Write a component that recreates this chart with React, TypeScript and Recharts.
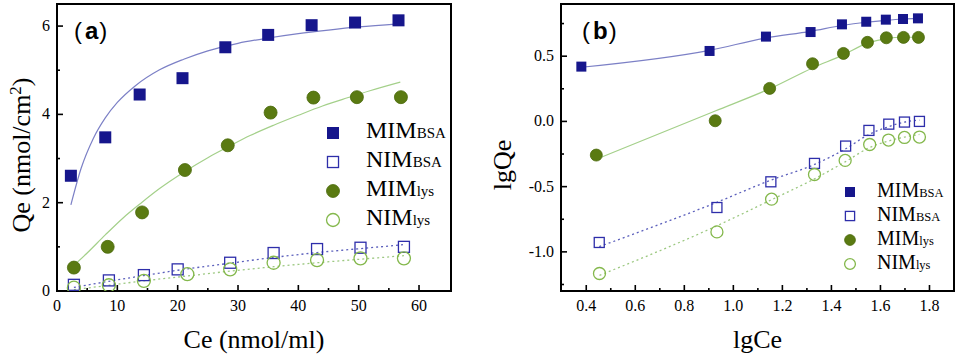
import React from 'react'
import {
  ComposedChart,
  Line,
  ReferenceArea,
  Scatter,
  XAxis,
  YAxis,
} from 'recharts'

// ---- panel (a): Qe vs Ce ----
const A_CE_MIMBSA = [2.3, 8.0, 13.7, 20.8, 27.9, 35.0, 42.2, 49.4, 56.6]
const A_QE_MIMBSA = [2.61, 3.48, 4.45, 4.82, 5.52, 5.8, 6.02, 6.08, 6.13]
const A_CE_NIMBSA = [2.8, 8.6, 14.4, 20.0, 28.7, 35.9, 43.1, 50.3, 57.5]
const A_QE_NIMBSA = [0.14, 0.24, 0.36, 0.49, 0.64, 0.86, 0.95, 0.98, 1.0]
const A_CE_MIMLYS = [2.8, 8.4, 14.1, 21.2, 28.3, 35.4, 42.5, 49.7, 57.0]
const A_QE_MIMLYS = [0.53, 1.0, 1.78, 2.74, 3.3, 4.04, 4.38, 4.39, 4.39]
const A_CE_NIMLYS = [2.8, 8.6, 14.4, 21.6, 28.7, 35.9, 43.1, 50.3, 57.5]
const A_QE_NIMLYS = [0.075, 0.13, 0.23, 0.38, 0.49, 0.64, 0.7, 0.74, 0.74]

// fitted curves
const A_FIT_CE_MIMBSA = [2.3, 4, 6, 8, 10, 13, 17, 21, 25, 30, 35, 40, 45, 50, 56.6]
const A_FIT_QE_MIMBSA = [1.95, 2.78, 3.45, 3.92, 4.27, 4.65, 5.01, 5.25, 5.44, 5.61, 5.73, 5.83, 5.91, 5.98, 6.05]
const A_FIT_CE_MIMLYS = [2.8, 5, 8, 11, 14, 17, 21, 25, 28.3, 32, 36, 40, 44, 48, 52, 56.9]
const A_FIT_QE_MIMLYS = [0.58, 0.86, 1.27, 1.66, 2.0, 2.32, 2.69, 3.02, 3.26, 3.52, 3.76, 3.98, 4.19, 4.37, 4.54, 4.73]
const A_FIT_CE_NIMBSA = [2.8, 8.6, 14.4, 20.0, 28.7, 35.9, 43.1, 50.3, 57.5]
const A_FIT_QE_NIMBSA = [0.08, 0.22, 0.35, 0.47, 0.63, 0.76, 0.87, 0.96, 1.05]
const A_FIT_CE_NIMLYS = [2.8, 8.6, 14.4, 21.6, 28.7, 35.9, 43.1, 50.3, 57.5]
const A_FIT_QE_NIMLYS = [0.03, 0.13, 0.23, 0.34, 0.45, 0.55, 0.64, 0.72, 0.8]

const A_X_TICKS = [0, 5, 10, 15, 20, 25, 30, 35, 40, 45, 50, 55, 60]
const A_X_LABELS = [0, 10, 20, 30, 40, 50, 60]
const A_Y_TICKS = [0, 1, 2, 3, 4, 5, 6]
const A_Y_LABELS = [0, 2, 4, 6]

// ---- panel (b): lgQe vs lgCe ----
const B_LC_MIMBSA = [0.38, 0.903, 1.133, 1.315, 1.443, 1.542, 1.622, 1.692, 1.753]
const B_LQ_MIMBSA = [0.42, 0.54, 0.65, 0.685, 0.744, 0.764, 0.78, 0.785, 0.79]
const B_LC_NIMBSA = [0.453, 0.933, 1.153, 1.331, 1.458, 1.553, 1.634, 1.698, 1.759]
const B_LQ_NIMBSA = [-0.928, -0.66, -0.463, -0.322, -0.189, -0.069, -0.021, -0.005, 0.0]
const B_LC_MIMLYS = [0.441, 0.926, 1.148, 1.323, 1.449, 1.547, 1.624, 1.694, 1.755]
const B_LQ_MIMLYS = [-0.258, 0.005, 0.253, 0.442, 0.521, 0.606, 0.641, 0.644, 0.644]
const B_LC_NIMLYS = [0.454, 0.933, 1.156, 1.331, 1.456, 1.556, 1.633, 1.698, 1.759]
const B_LQ_NIMLYS = [-1.166, -0.847, -0.596, -0.407, -0.299, -0.177, -0.143, -0.123, -0.12]

const B_FIT_LC_MIMBSA = [0.38, 0.903, 1.133, 1.315, 1.443, 1.542, 1.622, 1.692, 1.753]
const B_FIT_LQ_MIMBSA = [0.415, 0.545, 0.64, 0.69, 0.735, 0.76, 0.775, 0.785, 0.79]
const B_FIT_LC_MIMLYS = [0.441, 0.926, 1.148, 1.323, 1.449, 1.547, 1.624, 1.694, 1.755]
const B_FIT_LQ_MIMLYS = [-0.29, 0.08, 0.25, 0.41, 0.51, 0.6, 0.635, 0.645, 0.645]
const B_FIT_LC_NIMBSA = [0.453, 0.933, 1.153, 1.331, 1.458, 1.553, 1.634, 1.698, 1.759]
const B_FIT_LQ_NIMBSA = [-0.96, -0.62, -0.45, -0.33, -0.21, -0.1, -0.04, -0.005, 0.01]
const B_FIT_LC_NIMLYS = [0.454, 0.933, 1.156, 1.331, 1.456, 1.556, 1.633, 1.698, 1.759]
const B_FIT_LQ_NIMLYS = [-1.18, -0.8, -0.6, -0.44, -0.31, -0.2, -0.15, -0.12, -0.1]

const B_X_TICKS = [0.4, 0.5, 0.6, 0.7, 0.8, 0.9, 1.0, 1.1, 1.2, 1.3, 1.4, 1.5, 1.6, 1.7, 1.8]
const B_X_LABELS = [0.4, 0.6, 0.8, 1.0, 1.2, 1.4, 1.6, 1.8]
const B_Y_TICKS = [-1.25, -1.0, -0.75, -0.5, -0.25, 0, 0.25, 0.5, 0.75]
const B_Y_LABELS = [-1.0, -0.5, 0, 0.5]

const SERIES_NAMES = ['MIM', 'NIM', 'MIM', 'NIM']
const SERIES_SUBS = ['BSA', 'BSA', 'lys', 'lys']

const NAVY = '#16168c'
const BLUE_LINE = '#7c80c6'
const BLUE_OPEN = '#2e2eaa'
const OLIVE = '#5a7a12'
const GREEN_LINE = '#a4d08a'
const GREEN_OPEN = '#84b84c'
const SERIF = 'Liberation Serif'

const pts = (xs: number[], ys: number[]) => xs.map((x, i) => ({ x, y: ys[i] }))

const near = (list: number[], v: number) => list.some((l) => Math.abs(l - v) < 1e-6)

function FilledSquare({ cx, cy, size = 11 }: any) {
  return <rect x={cx - size / 2} y={cy - size / 2} width={size} height={size} fill={NAVY} />
}
function OpenSquare({ cx, cy, size = 10 }: any) {
  return (
    <rect x={cx - size / 2} y={cy - size / 2} width={size} height={size} fill="none" stroke={BLUE_OPEN} strokeWidth={1.3} />
  )
}
function FilledCircle({ cx, cy, r = 6 }: any) {
  return <circle cx={cx} cy={cy} r={r} fill={OLIVE} stroke="#4a6a0a" strokeWidth={0.8} />
}
function OpenCircle({ cx, cy, r = 6 }: any) {
  return <circle cx={cx} cy={cy} r={r} fill="none" stroke={GREEN_OPEN} strokeWidth={1.3} />
}

function XTick({ x, y, payload, labels, fmt }: any) {
  const major = near(labels, payload.value)
  return (
    <g>
      <line x1={x} x2={x} y1={y} y2={y - (major ? 6 : 3)} stroke="#000" strokeWidth={1.6} />
      {major && (
        <text x={x} y={y + 20} textAnchor="middle" fontFamily={SERIF} fontSize={16} fill="#000">
          {fmt(payload.value)}
        </text>
      )}
    </g>
  )
}

function YTick({ x, y, payload, labels, fmt }: any) {
  const major = near(labels, payload.value)
  return (
    <g>
      <line x1={x} x2={x + (major ? 6 : 3)} y1={y} y2={y} stroke="#000" strokeWidth={1.6} />
      {major && (
        <text x={x - 7} y={y + 5} textAnchor="end" fontFamily={SERIF} fontSize={16} fill="#000">
          {fmt(payload.value)}
        </text>
      )}
    </g>
  )
}

function Legend({ left, top, gap, markerX, textX, size, subSize }: any) {
  const markers = [
    <FilledSquare cx={10} cy={10} size={size * 0.5} />,
    <OpenSquare cx={10} cy={10} size={size * 0.46} />,
    <FilledCircle cx={10} cy={10} r={size * 0.27} />,
    <OpenCircle cx={10} cy={10} r={size * 0.27} />,
  ]
  return (
    <div style={{ position: 'absolute', left, top, fontFamily: SERIF }}>
      {SERIES_NAMES.map((name, i) => (
        <div key={i} style={{ position: 'absolute', top: i * gap, left: 0, height: 20, width: 160 }}>
          <svg width={20} height={20} style={{ position: 'absolute', left: markerX - 10, top: -10 }}>
            {markers[i]}
          </svg>
          <div
            style={{
              position: 'absolute',
              left: textX,
              top: -size * 0.62,
              fontSize: size,
              lineHeight: 1,
              whiteSpace: 'nowrap',
            }}
          >
            {name}
            <span style={{ fontSize: subSize }}>{SERIES_SUBS[i]}</span>
          </div>
        </div>
      ))}
    </div>
  )
}

function PanelTag({ left, top, letter }: any) {
  return (
    <div
      style={{
        position: 'absolute',
        left,
        top,
        fontFamily: '"Liberation Sans", Arial, sans-serif',
        fontSize: 24,
        lineHeight: 1,
        whiteSpace: 'nowrap',
      }}
    >
      <span style={{ fontWeight: 300 }}>(</span>
      <span style={{ fontWeight: 700, margin: '0 1px 0 3px' }}>{letter}</span>
      <span style={{ fontWeight: 300 }}>)</span>
    </div>
  )
}

// rotated y-axis title drawn as its own small svg overlay
function YTitle({ x, y, children }: any) {
  return (
    <svg width={60} height={356} style={{ position: 'absolute', left: 0, top: 0, overflow: 'visible' }}>
      <text
        x={x}
        y={y}
        transform={`rotate(-90 ${x} ${y})`}
        textAnchor="middle"
        fontFamily={SERIF}
        fontSize={26}
        fill="#000"
      >
        {children}
      </text>
    </svg>
  )
}

const fmtInt = (v: number) => `${v}`
const fmtOne = (v: number) => v.toFixed(1)

export default function App() {
  return (
    <div style={{ position: 'absolute', left: 0, top: 0, width: 958, height: 356, background: '#fff' }}>
      <div style={{ position: 'absolute', left: 0, top: 0 }}>
        <ComposedChart width={480} height={356} margin={{ top: 4, right: 29, bottom: 0, left: 0 }}>
          <XAxis
            type="number"
            dataKey="x"
            domain={[0, 65.3]}
            ticks={A_X_TICKS}
            allowDataOverflow
            axisLine={false}
            tickLine={false}
            tickSize={0}
            tickMargin={0}
            height={65}
            tick={<XTick labels={A_X_LABELS} fmt={fmtInt} />}
            interval={0}
            label={{ value: 'Ce (nmol/ml)', position: 'insideBottom', offset: 8, fontFamily: SERIF, fontSize: 26, fill: '#000' }}
          />
          <YAxis
            type="number"
            dataKey="y"
            domain={[0, 6.5]}
            ticks={A_Y_TICKS}
            allowDataOverflow
            axisLine={false}
            tickLine={false}
            tickSize={0}
            tickMargin={0}
            width={57}
            tick={<YTick labels={A_Y_LABELS} fmt={fmtInt} />}
            interval={0}
          />
          <ReferenceArea x1={0} x2={65.3} y1={0} y2={6.5} fill="none" stroke="#000" strokeWidth={2} ifOverflow="visible" />
          <Line data={pts(A_FIT_CE_MIMBSA, A_FIT_QE_MIMBSA)} dataKey="y" type="monotone" dot={false} stroke={BLUE_LINE} strokeWidth={1.2} isAnimationActive={false} />
          <Line data={pts(A_FIT_CE_MIMLYS, A_FIT_QE_MIMLYS)} dataKey="y" type="monotone" dot={false} stroke={GREEN_LINE} strokeWidth={1.2} isAnimationActive={false} />
          <Line data={pts(A_FIT_CE_NIMBSA, A_FIT_QE_NIMBSA)} dataKey="y" type="monotone" dot={false} stroke="#5c60bc" strokeWidth={1.3} strokeDasharray="2 3" isAnimationActive={false} />
          <Line data={pts(A_FIT_CE_NIMLYS, A_FIT_QE_NIMLYS)} dataKey="y" type="monotone" dot={false} stroke="#9cc880" strokeWidth={1.3} strokeDasharray="2 3" isAnimationActive={false} />
          <Scatter data={pts(A_CE_NIMBSA, A_QE_NIMBSA)} shape={(p: any) => <OpenSquare {...p} size={11} />} isAnimationActive={false} />
          <Scatter data={pts(A_CE_NIMLYS, A_QE_NIMLYS)} shape={(p: any) => <OpenCircle {...p} r={6.5} />} isAnimationActive={false} />
          <Scatter data={pts(A_CE_MIMBSA, A_QE_MIMBSA)} shape={(p: any) => <FilledSquare {...p} size={12} />} isAnimationActive={false} />
          <Scatter data={pts(A_CE_MIMLYS, A_QE_MIMLYS)} shape={(p: any) => <FilledCircle {...p} r={6.5} />} isAnimationActive={false} />
        </ComposedChart>
        <YTitle x={30} y={155}>
          Qe (nmol/cm<tspan dy={-9} fontSize={17}>2</tspan><tspan dy={9}>)</tspan>
        </YTitle>
        <Legend left={323} top={133} gap={29} markerX={10} textX={43} size={24} subSize={15} />
        <PanelTag left={74} top={19} letter="a" />
      </div>

      <div style={{ position: 'absolute', left: 480, top: 0 }}>
        <ComposedChart width={478} height={356} margin={{ top: 4, right: 4, bottom: 0, left: 0 }}>
          <XAxis
            type="number"
            dataKey="x"
            domain={[0.297, 1.9]}
            ticks={B_X_TICKS}
            allowDataOverflow
            axisLine={false}
            tickLine={false}
            tickSize={0}
            tickMargin={0}
            height={65}
            tick={<XTick labels={B_X_LABELS} fmt={fmtOne} />}
            interval={0}
            label={{ value: 'lgCe', position: 'insideBottom', offset: 8, fontFamily: SERIF, fontSize: 26, fill: '#000' }}
          />
          <YAxis
            type="number"
            dataKey="y"
            domain={[-1.3, 0.9]}
            ticks={B_Y_TICKS}
            allowDataOverflow
            axisLine={false}
            tickLine={false}
            tickSize={0}
            tickMargin={0}
            width={81}
            tick={<YTick labels={B_Y_LABELS} fmt={fmtOne} />}
            interval={0}
          />
          <ReferenceArea x1={0.297} x2={1.9} y1={-1.3} y2={0.9} fill="none" stroke="#000" strokeWidth={2} ifOverflow="visible" />
          <Line data={pts(B_FIT_LC_MIMBSA, B_FIT_LQ_MIMBSA)} dataKey="y" type="monotone" dot={false} stroke={BLUE_LINE} strokeWidth={1.2} isAnimationActive={false} />
          <Line data={pts(B_FIT_LC_MIMLYS, B_FIT_LQ_MIMLYS)} dataKey="y" type="monotone" dot={false} stroke={GREEN_LINE} strokeWidth={1.2} isAnimationActive={false} />
          <Line data={pts(B_FIT_LC_NIMBSA, B_FIT_LQ_NIMBSA)} dataKey="y" type="monotone" dot={false} stroke="#5c60bc" strokeWidth={1.3} strokeDasharray="2 3" isAnimationActive={false} />
          <Line data={pts(B_FIT_LC_NIMLYS, B_FIT_LQ_NIMLYS)} dataKey="y" type="monotone" dot={false} stroke="#9cc880" strokeWidth={1.3} strokeDasharray="2 3" isAnimationActive={false} />
          <Scatter data={pts(B_LC_NIMBSA, B_LQ_NIMBSA)} shape={(p: any) => <OpenSquare {...p} size={10} />} isAnimationActive={false} />
          <Scatter data={pts(B_LC_NIMLYS, B_LQ_NIMLYS)} shape={(p: any) => <OpenCircle {...p} r={6} />} isAnimationActive={false} />
          <Scatter data={pts(B_LC_MIMBSA, B_LQ_MIMBSA)} shape={(p: any) => <FilledSquare {...p} size={10} />} isAnimationActive={false} />
          <Scatter data={pts(B_LC_MIMLYS, B_LQ_MIMLYS)} shape={(p: any) => <FilledCircle {...p} r={6} />} isAnimationActive={false} />
        </ComposedChart>
        <YTitle x={31} y={165}>lgQe</YTitle>
        <Legend left={360} top={192} gap={24} markerX={10} textX={37} size={20} subSize={12.5} />
        <PanelTag left={102} top={19} letter="b" />
      </div>
    </div>
  )
}
